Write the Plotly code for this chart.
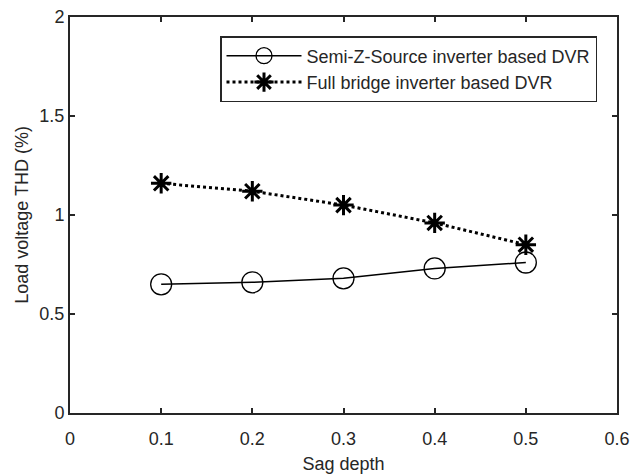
import plotly.graph_objects as go

sag_depth = [0.1, 0.2, 0.3, 0.4, 0.5]
semi_z_thd = [0.65, 0.66, 0.68, 0.73, 0.76]
full_bridge_thd = [1.16, 1.12, 1.05, 0.96, 0.85]
x_ticks = [0, 0.1, 0.2, 0.3, 0.4, 0.5, 0.6]
y_ticks = [0, 0.5, 1, 1.5, 2]

FONT = "Liberation Sans, Arial"
FS = 18

fig = go.Figure()
fig.add_trace(go.Scatter(
    x=sag_depth, y=semi_z_thd, mode="lines+markers",
    name="Semi-Z-Source inverter based DVR",
    line=dict(color="black", width=1.5),
    marker=dict(symbol="circle-open", size=21, color="black", line=dict(width=1.3)),
))
fig.add_trace(go.Scatter(
    x=sag_depth, y=full_bridge_thd, mode="lines+markers",
    name="Full bridge inverter based DVR",
    line=dict(color="black", width=3, dash="dot"),
    marker=dict(symbol="asterisk-open", size=17, color="black", line=dict(width=3, color="black")),
))

axis_common = dict(
    showline=True, linecolor="#262626", linewidth=2, mirror="ticks",
    ticks="inside", ticklen=5, tickwidth=1.5, tickcolor="#262626",
    showgrid=False, zeroline=False, automargin=False,
    tickfont=dict(family=FONT, size=FS, color="#262626"),
)
fig.update_xaxes(range=[0, 0.6], tickvals=x_ticks, ticktext=[str(t) for t in x_ticks],
                 ticklabelstandoff=8,
                 title=dict(text="Sag depth", font=dict(family=FONT, size=FS, color="#262626"), standoff=10),
                 **axis_common)
fig.update_yaxes(range=[0, 2], tickvals=y_ticks, ticktext=[str(t) for t in y_ticks],
                 title=dict(text="Load voltage THD (%)", font=dict(family=FONT, size=FS, color="#262626"), standoff=6),
                 **axis_common)

fig.update_layout(
    width=630, height=475,
    margin=dict(l=70, r=13, t=17, b=62),
    plot_bgcolor="white", paper_bgcolor="white",
    showlegend=True,
    legend=dict(x=597, y=0.952, xanchor="right", yanchor="top", xref="paper",
                bordercolor="#262626", borderwidth=1.5, bgcolor="white",
                font=dict(family=FONT, size=FS, color="#262626"),
                tracegroupgap=0, itemwidth=75),
)
# legend right edge at pixel 597 -> paper fraction
fig.layout.legend.x = (597 - 70) / (630 - 70 - 13)
fig.write_html("out.html")
